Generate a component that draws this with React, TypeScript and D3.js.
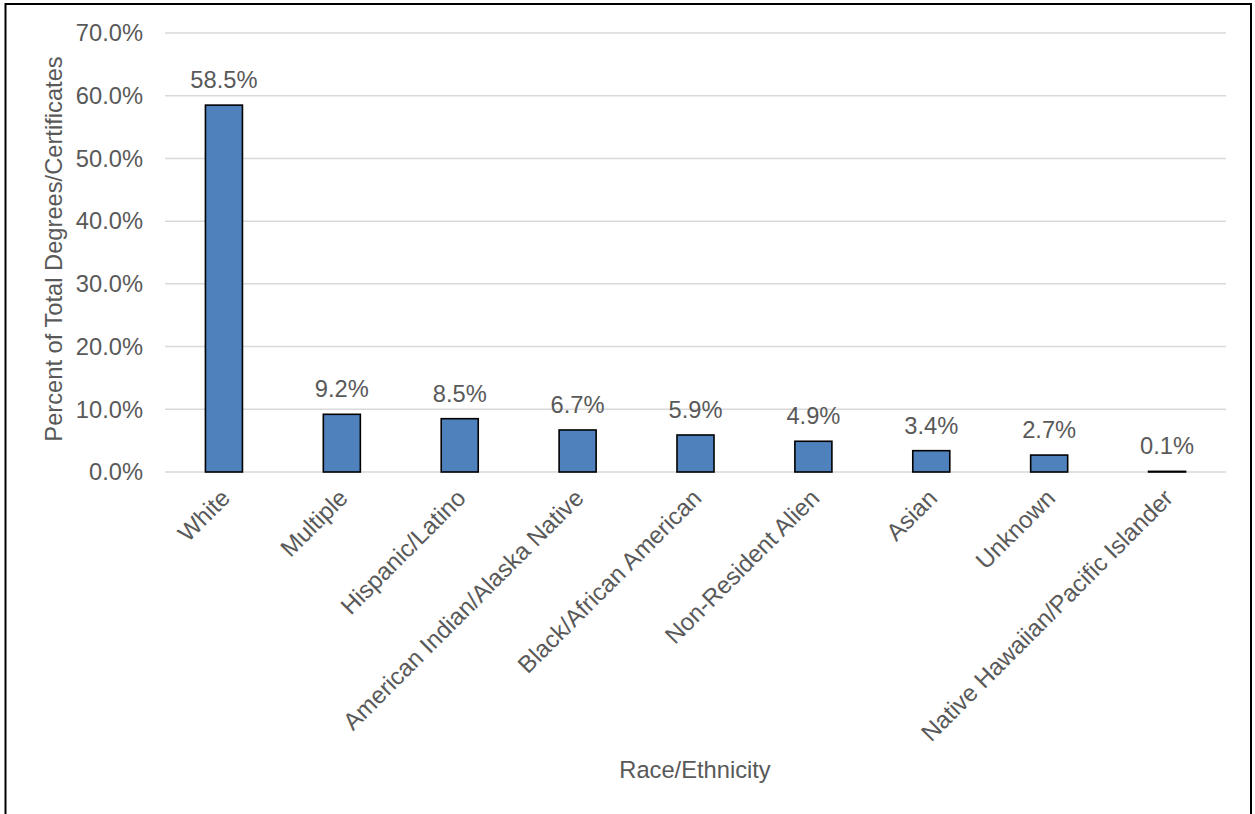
import React from "react";
import * as d3 from "d3";

const categories = [
  "White",
  "Multiple",
  "Hispanic/Latino",
  "American Indian/Alaska Native",
  "Black/African American",
  "Non-Resident Alien",
  "Asian",
  "Unknown",
  "Native Hawaiian/Pacific Islander",
];
const values = [58.5, 9.2, 8.5, 6.7, 5.9, 4.9, 3.4, 2.7, 0.1];
const yTicks = [0, 10, 20, 30, 40, 50, 60, 70];
const yAxisTitle = "Percent of Total Degrees/Certificates";
const xAxisTitle = "Race/Ethnicity";

const W = 1255;
const H = 814;
const plot = { left: 165, right: 1226, top: 33, bottom: 472 };
const FONT = "'Liberation Sans', Arial, sans-serif";
const TEXT = "#595959";
const FS = 23.7;

export default function App() {
  const x = d3
    .scaleBand<string>()
    .domain(categories)
    .range([plot.left, plot.right])
    .paddingInner(0.686)
    .paddingOuter(0.343);
  const y = d3.scaleLinear().domain([0, 70]).range([plot.bottom, plot.top]);
  const fmt = (v: number) => v.toFixed(1) + "%";

  return (
    <svg
      width={W}
      height={H}
      style={{ position: "absolute", left: 0, top: 0, background: "#fff" }}
      fontFamily={FONT}
    >
      <rect x={0} y={0} width={W} height={H} fill="#fff" />
      {/* frame */}
      <path d={`M5.5,${H + 5} V4 H1251 V${H + 5}`} fill="none" stroke="#000" strokeWidth={2} />
      {/* gridlines */}
      {yTicks.map((t) => (
        <line
          key={"g" + t}
          x1={plot.left}
          x2={plot.right}
          y1={y(t)}
          y2={y(t)}
          stroke="#d9d9d9"
          strokeWidth={1.5}
        />
      ))}
      {/* y tick labels */}
      {yTicks.map((t) => (
        <text
          key={"t" + t}
          x={143}
          y={y(t)}
          dy="0.35em"
          textAnchor="end"
          fontSize={FS}
          fill={TEXT}
        >
          {fmt(t)}
        </text>
      ))}
      {/* bars */}
      {categories.map((c, i) => (
        <rect
          key={"b" + c}
          x={x(c)!}
          y={y(values[i])}
          width={x.bandwidth()}
          height={plot.bottom - y(values[i])}
          fill="#4F81BD"
          stroke="#000"
          strokeWidth={1.6}
        />
      ))}
      {/* data labels */}
      {categories.map((c, i) => (
        <text
          key={"l" + c}
          x={x(c)! + x.bandwidth() / 2}
          y={y(values[i]) - 17}
          textAnchor="middle"
          fontSize={FS}
          fill={TEXT}
        >
          {fmt(values[i])}
        </text>
      ))}
      {/* x category labels */}
      {categories.map((c) => {
        const cx = x(c)! + x.bandwidth() / 2 + 7.5;
        const cy = 499.5;
        return (
          <text
            key={"x" + c}
            transform={`translate(${cx},${cy}) rotate(-45)`}
            textAnchor="end"
            fontSize={24.1}
            fill={TEXT}
          >
            {c}
          </text>
        );
      })}
      {/* axis titles */}
      <text
        transform={`translate(62,249) rotate(-90)`}
        textAnchor="middle"
        fontSize={FS}
        fill={TEXT}
      >
        {yAxisTitle}
      </text>
      <text x={695} y={778} textAnchor="middle" fontSize={FS} fill={TEXT}>
        {xAxisTitle}
      </text>
    </svg>
  );
}
